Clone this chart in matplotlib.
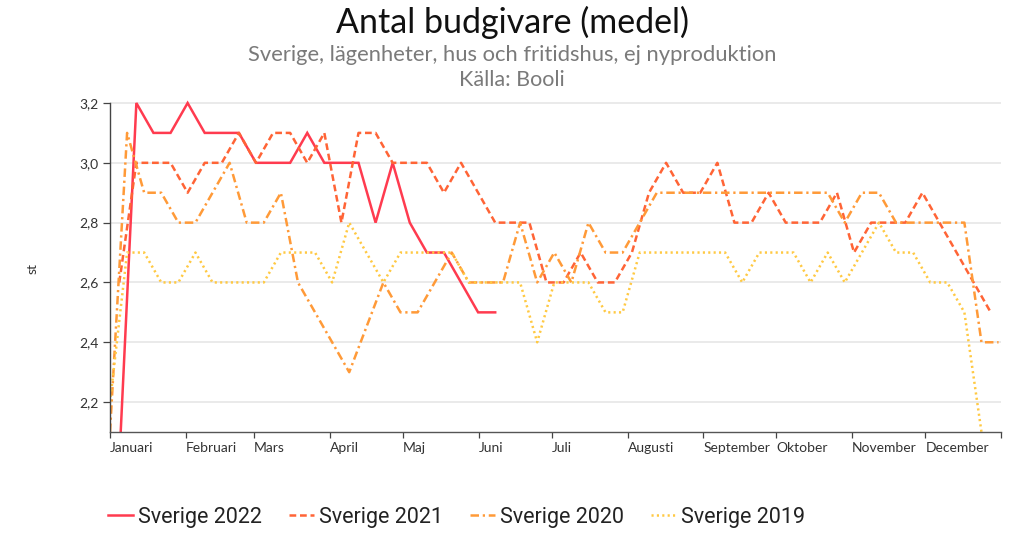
import matplotlib
matplotlib.use("Agg")
import matplotlib.pyplot as plt
import numpy as np

# ---------------- data ----------------
months = ["Januari", "Februari", "Mars", "April", "Maj", "Juni", "Juli",
          "Augusti", "September", "Oktober", "November", "December", ""]
month_start_day = [0, 31, 59, 90, 120, 151, 181, 212, 243, 273, 304, 334, 365]

# first weekly observation (day of year) for each series
start_2022 = 3.8
start_2021 = 3.8
start_2020 = 0.0
start_2019 = 0.0

v2022 = [2.0, 3.2, 3.1, 3.1, 3.2, 3.1, 3.1, 3.1, 3.0, 3.0, 3.0, 3.1, 3.0, 3.0,
         3.0, 2.8, 3.0, 2.8, 2.7, 2.7, 2.6, 2.5, 2.5]

v2021 = [2.6, 3.0, 3.0, 3.0, 2.9, 3.0, 3.0, 3.1, 3.0, 3.1, 3.1, 3.0, 3.1, 2.8,
         3.1, 3.1, 3.0, 3.0, 3.0, 2.9, 3.0, 2.9, 2.8, 2.8, 2.8, 2.6, 2.6, 2.7,
         2.6, 2.6, 2.7, 2.9, 3.0, 2.9, 2.9, 3.0, 2.8, 2.8, 2.9, 2.8, 2.8, 2.8,
         2.9, 2.7, 2.8, 2.8, 2.8, 2.9, 2.8, 2.7, 2.6, 2.5]

v2020 = [2.1, 3.1, 2.9, 2.9, 2.8, 2.8, 2.9, 3.0, 2.8, 2.8, 2.9, 2.6, 2.5, 2.4,
         2.3, 2.45, 2.6, 2.5, 2.5, 2.6, 2.7, 2.6, 2.6, 2.6, 2.8, 2.6, 2.7, 2.6,
         2.8, 2.7, 2.7, 2.8, 2.9, 2.9, 2.9, 2.9, 2.9, 2.9, 2.9, 2.9, 2.9, 2.9,
         2.9, 2.8, 2.9, 2.9, 2.8, 2.8, 2.8, 2.8, 2.8, 2.4, 2.4]

v2019 = [2.2, 2.7, 2.7, 2.6, 2.6, 2.7, 2.6, 2.6, 2.6, 2.6, 2.7, 2.7, 2.7, 2.6,
         2.8, 2.7, 2.6, 2.7, 2.7, 2.7, 2.7, 2.6, 2.6, 2.6, 2.6, 2.4, 2.6, 2.6,
         2.6, 2.5, 2.5, 2.7, 2.7, 2.7, 2.7, 2.7, 2.7, 2.6, 2.7, 2.7, 2.7, 2.6,
         2.7, 2.6, 2.7, 2.8, 2.7, 2.7, 2.6, 2.6, 2.5, 2.1, 1.8]

labels = ["Sverige 2022", "Sverige 2021", "Sverige 2020", "Sverige 2019"]
yticks = [2.2, 2.4, 2.6, 2.8, 3.0, 3.2]

# ---------------- figure ----------------
plt.rcParams['font.family'] = ['Lato', 'DejaVu Sans']
fig = plt.figure(figsize=(10.24, 5.48), dpi=100)
ax = fig.add_axes([110/1024, 1-432/548, (1001-110)/1024, (432-100)/548])

def xs(start, vals):
    return start + 7*np.arange(len(vals))

lw = 1.8
ax.plot(xs(start_2022, v2022), v2022, color='#ff3b4f', lw=lw, solid_joinstyle='miter',
        label=labels[0])
ax.plot(xs(start_2021, v2021), v2021, color='#ff6436', lw=lw, dashes=(2.7, 1.5),
        label=labels[1])
ax.plot(xs(start_2020, v2020), v2020, color='#ff9a38', lw=lw, dashes=(3.4, 1.5, 0.9, 1.5),
        label=labels[2])
ax.plot(xs(start_2019, v2019), v2019, color='#ffc943', lw=lw, dashes=(0.85, 1.3),
        label=labels[3])

ax.set_xlim(0, 365)
ax.set_ylim(2.1, 3.21)

ax.set_yticks(yticks)
ax.set_yticklabels([f"{t:.1f}".replace('.', ',') for t in yticks])
ax.set_xticks(month_start_day)
ax.set_xticklabels(months)
for lbl in ax.get_xticklabels():
    lbl.set_ha('left')

ax.grid(axis='y', color='#e8e8e8', lw=1.3)
ax.set_axisbelow(True)
for s in ['top', 'right']:
    ax.spines[s].set_visible(False)
ax.spines['left'].set_color('#444444')
ax.spines['bottom'].set_color('#555555')
ax.spines['left'].set_linewidth(1.0)
ax.spines['bottom'].set_linewidth(1.0)
ax.spines['left'].set_bounds(2.1, 3.2)
ax.tick_params(axis='y', length=5, width=0.9, color='#444444', labelsize=10,
               labelcolor='#333333', pad=3)
ax.tick_params(axis='x', length=4, width=0.9, color='#444444', labelsize=10,
               labelcolor='#333333', pad=3)

fig.text(33/1024, 1-268/548, "st", rotation=90, ha='center', va='center',
         fontsize=10, color='#333333')

fig.text(0.5, 1-22/548, "Antal budgivare (medel)", ha='center', va='center',
         fontsize=24.5, color='#111111')
fig.text(0.5, 1-55/548, "Sverige, lägenheter, hus och fritidshus, ej nyproduktion",
         ha='center', va='center', fontsize=15.8, color='#7a7a7a')
fig.text(0.5, 1-80/548, "Källa: Booli", ha='center', va='center',
         fontsize=15.5, color='#7a7a7a')

leg = fig.legend(loc='center left', bbox_to_anchor=(89/1024, 1-517/548), ncol=4,
                 frameon=False, handlelength=1.15, handletextpad=0.22,
                 columnspacing=1.28, labelcolor='#222222',
                 prop={'family': ['Roboto', 'DejaVu Sans'], 'size': 15.5})

fig.savefig("out.png", dpi=100)
